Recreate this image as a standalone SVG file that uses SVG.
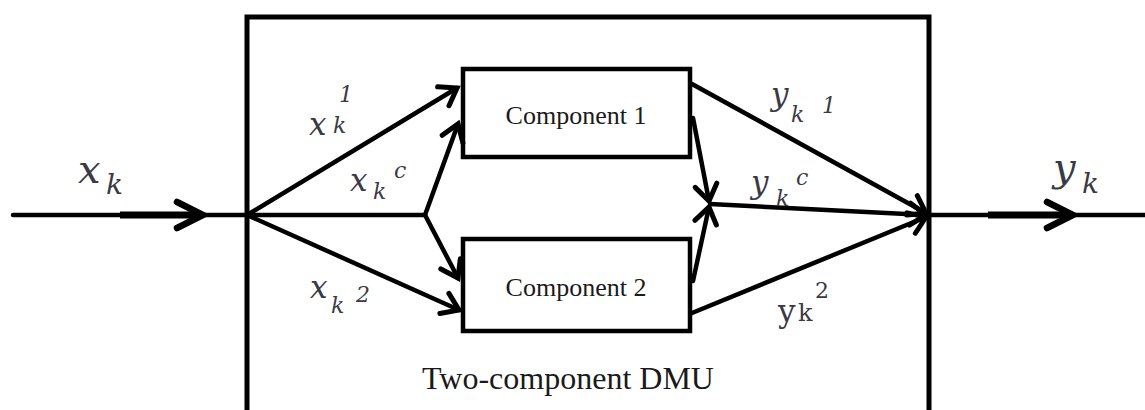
<svg xmlns="http://www.w3.org/2000/svg" width="1145" height="410" viewBox="0 0 1145 410">
  <style>
    .box { fill: #fff; stroke: #000; stroke-width: 4.5; }
    .outer { fill: none; stroke: #000; stroke-width: 5; }
    .ln { fill: none; stroke: #000; stroke-width: 4.5; stroke-linecap: round; }
    .thick { fill: none; stroke: #000; stroke-width: 7; stroke-linecap: butt; }
    .lbl { font-family: "DejaVu Serif", "Liberation Serif", serif; font-style: italic; fill: #3a3a44; }
    .name { font-family: "Liberation Serif", "Times New Roman", serif; fill: #1a1a1a; text-anchor: middle; }
  </style>
  <defs>
    <marker id="ah" markerUnits="userSpaceOnUse" markerWidth="24" markerHeight="24" refX="19" refY="11" orient="auto" overflow="visible">
      <path d="M3,0 L19,11 L3,22" fill="none" stroke="#000" stroke-width="5" stroke-linecap="round"/>
    </marker>
    <marker id="ahBig" markerUnits="userSpaceOnUse" markerWidth="30" markerHeight="30" refX="26" refY="13" orient="auto" overflow="visible">
      <path d="M0,0 L26,13 L0,26" fill="none" stroke="#000" stroke-width="6.5" stroke-linecap="round"/>
    </marker>
  </defs>

  <rect width="1145" height="410" fill="#fff"/>

  <!-- DMU boundary -->
  <g id="dmu">
    <path class="outer" d="M247,420 V17 H929 V420"/>
    <text class="name" x="568" y="389" font-size="32">Two-component DMU</text>
  </g>

  <!-- Components -->
  <g id="component1">
    <rect class="box" x="463" y="69" width="227" height="88"/>
    <text class="name" x="576" y="124" font-size="26">Component 1</text>
  </g>
  <g id="component2">
    <rect class="box" x="463" y="239" width="227" height="92"/>
    <text class="name" x="576" y="296" font-size="26">Component 2</text>
  </g>

  <!-- Connectors -->
  <g id="connectors">
    <!-- input and output flows -->
    <line class="ln" x1="13" y1="215" x2="247" y2="215"/>
    <line class="thick" x1="120" y1="215" x2="203" y2="215" marker-end="url(#ahBig)"/>
    <line class="ln" x1="929" y1="215" x2="1145" y2="215"/>
    <line class="thick" x1="988" y1="215" x2="1073" y2="215" marker-end="url(#ahBig)"/>

    <!-- inputs split -->
    <line class="ln" x1="247" y1="215" x2="457" y2="88" marker-end="url(#ah)"/>
    <line class="ln" x1="247" y1="215" x2="425" y2="215"/>
    <line class="ln" x1="425" y1="215" x2="458" y2="124" marker-end="url(#ah)"/>
    <line class="ln" x1="425" y1="215" x2="458" y2="278" marker-end="url(#ah)"/>
    <line class="ln" x1="247" y1="215" x2="459" y2="310" marker-end="url(#ah)"/>

    <!-- outputs merge -->
    <line class="ln" x1="692" y1="84" x2="926" y2="213" marker-end="url(#ah)"/>
    <line class="ln" x1="693" y1="118" x2="709" y2="201" marker-end="url(#ah)"/>
    <line class="ln" x1="693" y1="281" x2="709" y2="207" marker-end="url(#ah)"/>
    <line class="ln" x1="710" y1="204" x2="926" y2="215" marker-end="url(#ah)"/>
    <line class="ln" x1="692" y1="313" x2="926" y2="217" marker-end="url(#ah)"/>
  </g>

  <!-- Flow labels -->
  <g id="labels">
    <text class="lbl"><tspan x="78" y="183" font-size="40">x</tspan><tspan x="106" y="194" font-size="28">k</tspan></text>
    <text class="lbl"><tspan x="1053" y="181" font-size="40">y</tspan><tspan x="1082" y="193" font-size="28">k</tspan></text>

    <text class="lbl"><tspan x="309" y="135" font-size="31">x</tspan><tspan x="333" y="133" font-size="22">k</tspan><tspan x="339" y="102" font-size="22">1</tspan></text>
    <text class="lbl"><tspan x="350" y="191" font-size="31">x</tspan><tspan x="373" y="199" font-size="22">k</tspan><tspan x="394" y="178" font-size="22">c</tspan></text>
    <text class="lbl"><tspan x="310" y="298" font-size="31">x</tspan><tspan x="331" y="313" font-size="22">k</tspan><tspan x="356" y="302" font-size="22">2</tspan></text>

    <text class="lbl"><tspan x="771" y="105" font-size="31">y</tspan><tspan x="791" y="122" font-size="22">k</tspan><tspan x="822" y="113" font-size="22">1</tspan></text>
    <text class="lbl"><tspan x="751" y="193" font-size="31">y</tspan><tspan x="776" y="206" font-size="22">k</tspan><tspan x="796" y="185" font-size="22">c</tspan></text>
    <text class="lbl"><tspan x="778" y="322" font-size="31" font-style="normal">y</tspan><tspan x="798" y="321" font-size="24" font-style="normal">k</tspan><tspan x="815" y="298" font-size="22" font-style="normal">2</tspan></text>
  </g>
</svg>
